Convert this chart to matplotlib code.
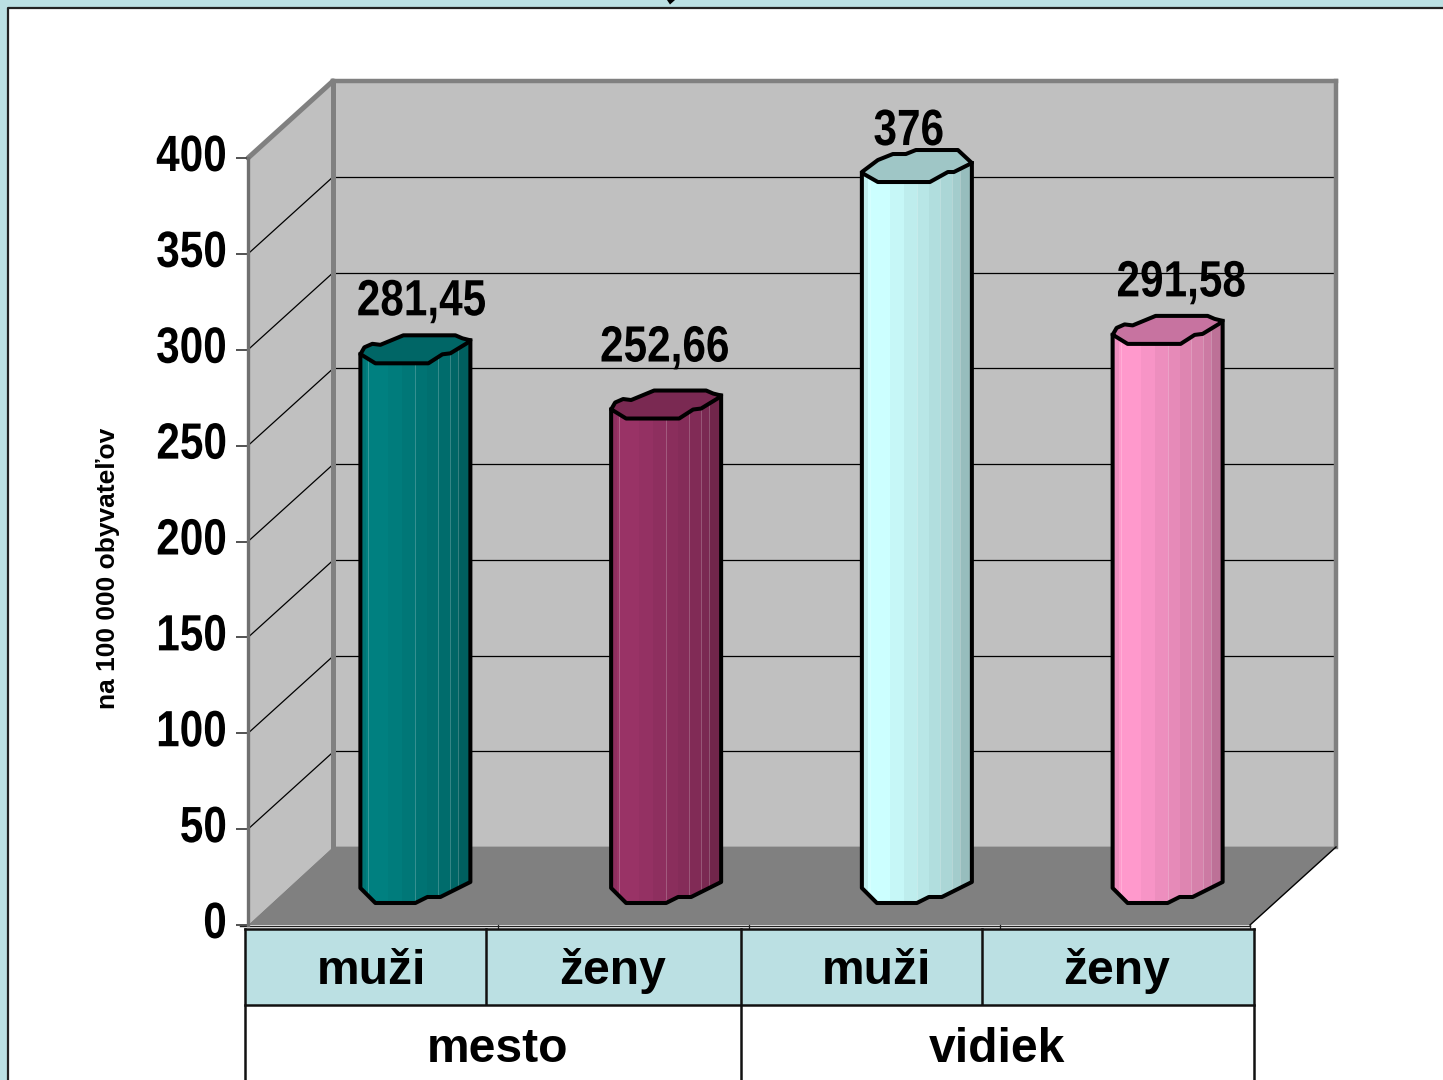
#!/usr/bin/env python3
"""Rate per 100 000 inhabitants, town vs countryside, men and women.
Fake-3D cylinder columns inside a grey box, with a two-level table below."""

import matplotlib
matplotlib.use("Agg")
import matplotlib.pyplot as plt
from matplotlib.patches import Polygon, Rectangle
from matplotlib.patheffects import AbstractPathEffect
from matplotlib.transforms import Affine2D

W, H = 1443, 1080

categories = ["muži", "ženy", "muži", "ženy"]
groups = ["mesto", "vidiek"]
values = [281.45, 252.66, 376, 291.58]
value_labels = ["281,45", "252,66", "376", "291,58"]
y_ticks = [0, 50, 100, 150, 200, 250, 300, 350, 400]
y_label = "na 100 000 obyvateľov"

body_colors = ["#008080", "#993366", "#CCFFFF", "#FF99CC"]
cap_colors = ["#006666", "#7A2952", "#9FC6C6", "#C773A0"]

# value label placement in pixels from the column centre / front line
LABEL_DX = [6, -1.5, -8, 13.5]
LABEL_DY = [48, 57, 37, 47.5]

PALE = "#BBE0E3"
FONT = ["Liberation Sans"]

# column outline, pixels from the left edge / front line of the column
CAP = [(0, -9), (4, -16), (12, -19.5), (20, -18.5), (43, -28), (95, -28), (102, -25),
       (110, -23), (108, -21), (90, -10), (82, -9), (68, 0), (15, 0), (2, -8)]
CAP_TALL = [(0, -10), (16, -22), (31, -28), (44, -28), (54, -32), (96, -32), (110, -19),
            (92, -10), (86, -10), (68, 0), (16, 0), (2, -8)]
caps = [CAP, CAP, CAP_TALL, CAP]
FOOT = [(110, -21), (80, -6), (67, -6), (55, 0), (15, 0), (0, -15)]
STRIP_EDGES = [0, 6, 28, 42, 55, 67, 78, 90, 98, 110]
STRIP_SHADE = [0.93, 1.0, 0.97, 0.93, 0.90, 0.87, 0.84, 0.80, 0.74]
STRIP_SEAMS = [8, 55, 78, 90, 98]


class Squeeze(AbstractPathEffect):
    """Narrow the glyphs of a text, the original uses a condensed bold."""

    def __init__(self, sx, anchor=0.5):
        super().__init__()
        self.sx = sx
        self.anchor = anchor

    def draw_path(self, renderer, gc, tpath, affine, rgbFace=None):
        ext = tpath.get_extents()
        x = ext.x0 + self.anchor * ext.width
        squeeze = Affine2D().translate(-x, 0).scale(self.sx, 1).translate(x, 0)
        renderer.draw_path(gc, tpath, squeeze + affine, rgbFace)


def axes_px(fig, left, top, right, bottom, **kw):
    return fig.add_axes([left / W, 1 - bottom / H, (right - left) / W, (bottom - top) / H], **kw)


def pixel_layer(fig, z):
    a = axes_px(fig, 0, 0, W, H, zorder=z, facecolor="none")
    a.set_xlim(0, W)
    a.set_ylim(H, 0)
    a.axis("off")
    return a


def shade(color, f):
    return tuple(c * f for c in matplotlib.colors.to_rgb(color))


fig = plt.figure(figsize=(W / 100, H / 100), dpi=100, facecolor="white")

# page border
deco = pixel_layer(fig, 0)
deco.add_patch(Rectangle((0, 0), W, 8, fc=PALE, ec="none"))
deco.add_patch(Rectangle((0, 0), 8, H, fc=PALE, ec="none"))
deco.plot([8, 8, W], [H, 8, 8], color="#222222", lw=1.6)
deco.add_patch(Polygon([(667, 0), (675, 0), (670, 4.5)], fc="black", ec="none"))

# back wall, real gridlines
back = axes_px(fig, 333, 81, 1336, 847, zorder=1, facecolor="#C0C0C0")
back.set_ylim(0, 400)
back.set_xlim(0, 1)
back.set_xticks([])
back.set_yticks(y_ticks)
back.tick_params(left=False, labelleft=False)
back.grid(axis="y", color="black", lw=0.9)
back.set_axisbelow(True)
for s in back.spines.values():
    s.set_color("#808080")
    s.set_linewidth(3.2)
back.spines["bottom"].set_visible(False)

# left wall and floor
walls = pixel_layer(fig, 2)
walls.add_patch(Polygon([(248, 158), (333, 81), (333, 847), (248, 925)], fc="#C0C0C0", ec="none"))
walls.add_patch(Polygon([(248, 925), (333, 847), (1336, 847), (1250, 925)], fc="#808080", ec="none"))
for t in y_ticks[1:-1]:
    y0 = 925 - t * 767 / 400
    walls.plot([248, 333], [y0, y0 - 77], color="black", lw=0.9)
walls.plot([248, 333], [158, 81], color="#808080", lw=3.6, solid_capstyle="round")
walls.plot([333, 333], [81, 849], color="#808080", lw=3.6)
walls.plot([1250, 1336], [925, 847], color="black", lw=1.0)
walls.plot([240, 1250], [925.5, 925.5], color="#222222", lw=1.0)
for x in (498, 749, 1000, 1250):
    walls.plot([x, x], [925, 929], color="#222222", lw=0.9)

# y axis on the front edge of the left wall
yax = axes_px(fig, 248, 158, 249, 925, zorder=3, facecolor="none")
yax.set_ylim(0, 400)
yax.set_xticks([])
yax.set_yticks(y_ticks)
yax.set_yticklabels([str(t) for t in y_ticks], family=FONT, fontweight="bold", fontsize=36.7)
yax.tick_params(axis="y", length=9, width=1.3, color="#444444", pad=6)
for lab in yax.get_yticklabels():
    lab.set_path_effects([Squeeze(0.83, anchor=1.0)])
    lab.set_transform(lab.get_transform() + Affine2D().translate(0, 6))
for k, s in yax.spines.items():
    s.set_visible(k == "left")
yax.spines["left"].set_color("#707070")
yax.spines["left"].set_linewidth(2.4)
fig.text(108.5 / W, 1 - 568 / H, y_label, rotation=90, ha="center", va="center",
         family=FONT, fontweight="bold", fontsize=19)

# columns: one unit in x is one category, y runs in chart values
ax = axes_px(fig, 290, 136, 1293, 903, zorder=4, facecolor="none")
ax.set_xlim(0, 4)
ax.set_ylim(0, 400)
ax.axis("off")
ux = 4 / 1003
uy = 400 / 767

for i, (v, lab) in enumerate(zip(values, value_labels)):
    x0 = i + 0.5 - 55 * ux
    top_right = max(p[0] for p in caps[i])
    tr_dy = [p[1] for p in caps[i] if p[0] == top_right][0]
    foot_pts = [(x0 + dx * ux, -dy * uy) for dx, dy in FOOT]
    outline = [(x0 + 110 * ux, v - tr_dy * uy)] + foot_pts + [(x0, v + 9 * uy)]
    body = Polygon(outline, closed=True, fc="none", ec="none")
    ax.add_patch(body)
    for a, b, f in zip(STRIP_EDGES[:-1], STRIP_EDGES[1:], STRIP_SHADE):
        r = ax.bar(x0 + a * ux, v + 40 + 30 * uy, width=(b - a + 0.6) * ux, bottom=-40, align="edge",
                   color=shade(body_colors[i], f), lw=0)
        r[0].set_clip_path(body)
    for a in STRIP_SEAMS:
        seam = ax.plot([x0 + a * ux] * 2, [-40, v + 30 * uy], color="white", alpha=0.22, lw=0.7)[0]
        seam.set_clip_path(body)
    cap = Polygon([(x0 + dx * ux, v - dy * uy) for dx, dy in caps[i]], closed=True,
                  fc=cap_colors[i], ec="black", lw=2.9, clip_on=False, joinstyle="round", zorder=3)
    ax.add_patch(cap)
    ax.plot(*zip(*outline), color="black", lw=2.9, clip_on=False, solid_joinstyle="round", zorder=3)
    txt = ax.text(i + 0.5 + LABEL_DX[i] * ux, v + LABEL_DY[i] * uy, lab, ha="center", va="baseline",
                  family=FONT, fontweight="bold", fontsize=36.7, clip_on=False, zorder=4)
    txt.set_path_effects([Squeeze(0.83)])

# table under the chart
tab = pixel_layer(fig, 5)
tab.add_patch(Rectangle((245, 929), 1009, 75.5, fc=PALE, ec="none"))
cell_lines = [([245, 1254], [929, 929]), ([245, 1254], [1004.5, 1004.5]),
              ([245, 245], [929, H]), ([1254, 1254], [929, H]), ([740.5, 740.5], [929, H]),
              ([486, 486], [929, 1004]), ([982, 982], [929, 1004])]
for xs, ys in cell_lines:
    tab.plot(xs, ys, color="#111111", lw=1.8)
for x, c in zip((371, 613, 876, 1117), categories):
    tab.text(x, 971.5, c, ha="center", va="center", family=FONT, fontweight="bold", fontsize=34.6)
for x, g in zip((498, 997), groups):
    tab.text(x, 1049, g, ha="center", va="center", family=FONT, fontweight="bold", fontsize=34.6)

fig.savefig("out.png", dpi=100)
